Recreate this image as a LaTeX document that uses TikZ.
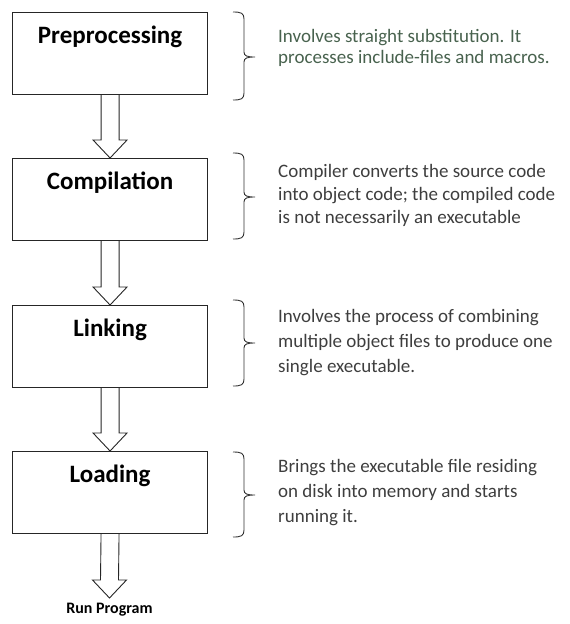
\documentclass[tikz,border=0pt]{standalone}
\usepackage{fontspec}
\setmainfont{Carlito}
\usetikzlibrary{calc}

\definecolor{desctext}{RGB}{62,62,62}
\definecolor{descgreen}{RGB}{72,98,78}

% hollow block arrow from the bottom of one node to the top of another
\newcommand{\hollowarrow}[2]{%
  \draw[arrowline] ($(#1.south)+(-9,0)$) -- ($(#2.north)+(-9,18)$)
    -- ($(#2.north)+(-17,18)$) -- (#2.north) -- ($(#2.north)+(17,18)$)
    -- ($(#2.north)+(9,18)$) -- ($(#1.south)+(9,0)$);}

% curly brace at x=233, from top #1 to bottom #2, tip at #3
\newcommand{\sidebrace}[3]{%
  \draw[bracket] (233,#1) .. controls (241,#1) and (244,#1-1) .. (244,#1-7)
    -- (244,#3+5) .. controls (244,#3+1) and (247,#3) .. (255,#3)
    .. controls (247,#3) and (244,#3-1) .. (244,#3-5)
    -- (244,#2+7) .. controls (244,#2+1) and (241,#2) .. (233,#2);}

\begin{document}
\begin{tikzpicture}[x=1pt,y=1pt,
    stepbox/.style={draw=black!85,line width=1.1pt,minimum width=195pt,
        minimum height=82pt,inner sep=0pt,anchor=north west},
    title/.style={font=\bfseries\fontsize{25}{28}\selectfont,anchor=base,yshift=-31pt},
    arrowline/.style={draw=black!85,line width=0.9pt,fill=white,line join=miter},
    bracket/.style={draw=black!80,line width=0.9pt},
    desc/.style={anchor=base west,align=left,inner sep=0pt,text=desctext,
        font=\fontsize{19}{25}\selectfont}]
\useasboundingbox (0,0) rectangle (570,-624);

% the four stages
\node[stepbox,label={[title]north:Preprocessing}] (pre) at (12,-12) {};
\node[stepbox,label={[title]north:Compilation}] (comp) at (12,-158) {};
\node[stepbox,label={[title]north:Linking}] (link) at (12,-305) {};
\node[stepbox,label={[title]north:Loading}] (load) at (12,-451) {};
\node[font=\bfseries\fontsize{16}{18}\selectfont,inner sep=0pt,outer ysep=5pt,anchor=north] (run) at (109.5,-598) {Run Program};

\foreach \a/\b in {pre/comp,comp/link,link/load,load/run}
    \hollowarrow{\a}{\b};

% braces and notes
\sidebrace{-12}{-100}{-57}
\sidebrace{-153}{-239}{-197}
\sidebrace{-300}{-386}{-343}
\sidebrace{-452}{-537}{-495}

\node[desc,text=descgreen,font=\fontsize{19}{21}\selectfont] (pretext) at (278,-63)
    {Involves straight substitution. It\\processes include-files and macros.};
\node[desc,font=\fontsize{19}{23}\selectfont] (comptext) at (278,-223)
    {Compiler converts the source code\\into object code; the compiled code\\is not necessarily an executable};
\node[desc] (linktext) at (278,-372)
    {Involves the process of combining\\multiple object files to produce one\\single executable.};
\node[desc] (loadtext) at (278,-522)
    {Brings the executable file residing\\on disk into memory and starts\\running it.};
\end{tikzpicture}
\end{document}
